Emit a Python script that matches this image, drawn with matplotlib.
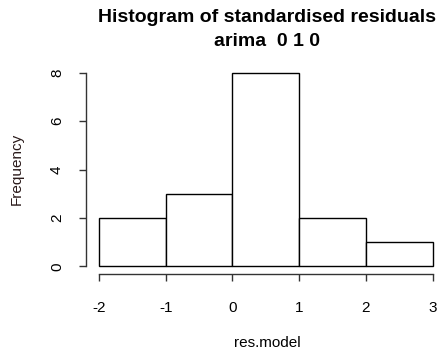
import matplotlib
matplotlib.use("Agg")
import matplotlib.pyplot as plt

# histogram of standardised residuals, arima(0,1,0)
bin_edges = [-2, -1, 0, 1, 2, 3]
counts = [2, 3, 8, 2, 1]
x_ticks = [-2, -1, 0, 1, 2, 3]
y_ticks = [0, 2, 4, 6, 8]

plt.rcParams["font.family"] = ["Liberation Sans", "DejaVu Sans"]
plt.rcParams["axes.unicode_minus"] = False

W, H = 441, 358
fig = plt.figure(figsize=(W / 100, H / 100), dpi=100)

# plot region in pixels (R style: 4% padding on each side)
left, right, top, bottom = 85.6, 446.0, 65.0, 274.0
ax = fig.add_axes([left / W, 1 - bottom / H, (right - left) / W, (bottom - top) / H])

widths = [b - a for a, b in zip(bin_edges[:-1], bin_edges[1:])]
ax.bar(bin_edges[:-1], counts, width=widths, align="edge",
       facecolor="white", edgecolor="black", linewidth=1.0)

xr = bin_edges[-1] - bin_edges[0]
ax.set_xlim(bin_edges[0] - 0.04 * xr, bin_edges[-1] + 0.04 * xr)
ax.set_ylim(-0.04 * max(counts), max(counts) * 1.04)

for s in ["top", "right"]:
    ax.spines[s].set_visible(False)
ax.spines["left"].set_bounds(y_ticks[0], y_ticks[-1])
ax.spines["bottom"].set_bounds(x_ticks[0], x_ticks[-1])
for s in ["left", "bottom"]:
    ax.spines[s].set_linewidth(1.0)
    ax.spines[s].set_color("#333333")

ax.set_xticks(x_ticks)
ax.set_yticks(y_ticks)
ax.set_yticklabels([str(v) for v in y_ticks], rotation=90, va="center")
ax.tick_params(axis="x", length=5, width=1.0, color="#333333", pad=14.5, labelsize=11)
ax.tick_params(axis="y", length=5, width=1.0, color="#333333", pad=10.5, labelsize=11)

fig.text(267 / W, 1 - 18 / H, "Histogram of standardised residuals", ha="center",
         va="center", fontsize=14, fontweight="bold")
fig.text(267 / W, 1 - 41 / H, "arima  0 1 0", ha="center", va="center",
         fontsize=14, fontweight="bold")
fig.text(267 / W, 1 - 343 / H, "res.model", ha="center", va="center", fontsize=11)
fig.text(17 / W, 1 - 169 / H, "Frequency", ha="center", va="center", fontsize=11,
         rotation=90, color="#2a1a1a")

fig.savefig("out.png", dpi=100)
